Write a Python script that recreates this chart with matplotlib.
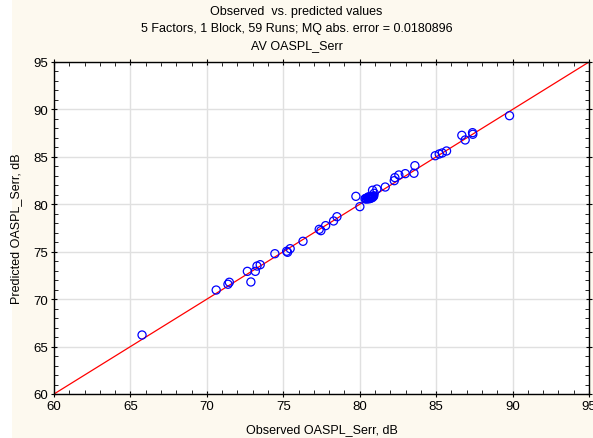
import matplotlib
matplotlib.use("Agg")
import matplotlib.pyplot as plt
from matplotlib.ticker import MultipleLocator
from matplotlib.patches import Rectangle

plt.rcParams['font.family'] = ['Liberation Sans', 'DejaVu Sans']

observed = [65.76, 70.61, 71.38, 71.47, 72.65, 72.88, 73.17, 73.28, 73.49, 74.45,
            75.22, 75.28, 75.45, 76.29, 77.35, 77.46, 77.77, 78.29, 78.51, 79.75,
            80.01, 80.84, 80.95, 81.12, 81.67, 82.26, 82.30, 82.56, 82.98, 83.55,
            83.61, 84.94, 85.20, 85.40, 85.68, 86.68, 86.90, 87.38, 87.40, 89.80,
            80.35, 80.40, 80.45, 80.50, 80.55, 80.58, 80.62, 80.65, 80.68, 80.70,
            80.73, 80.76, 80.79, 80.82, 80.85, 80.88, 80.92, 80.52, 80.60]
predicted = [66.22, 70.96, 71.57, 71.78, 72.93, 71.81, 72.93, 73.49, 73.63, 74.79,
             75.05, 74.94, 75.32, 76.10, 77.36, 77.22, 77.75, 78.24, 78.69, 80.84,
             79.75, 81.48, 81.16, 81.61, 81.82, 82.49, 82.81, 83.09, 83.23, 83.27,
             84.07, 85.12, 85.30, 85.41, 85.62, 87.27, 86.78, 87.55, 87.38, 89.34,
             80.58, 80.62, 80.55, 80.66, 80.60, 80.70, 80.58, 80.68, 80.62, 80.75,
             80.66, 80.72, 80.78, 80.70, 80.85, 80.80, 80.88, 80.72, 80.80]

fig = plt.figure(figsize=(5.93, 4.39), dpi=100)
bg = '#fdf9ef'
fig.patch.set_facecolor(bg)
fig.patches.append(Rectangle((0, 0), 12/593, 1, transform=fig.transFigure,
                             facecolor='white', edgecolor='none', zorder=-1))

ax = fig.add_axes([54/593, 1-395/439, 535/593, 332/439])
ax.set_facecolor('white')
ax.set_xlim(60, 95)
ax.set_ylim(60, 95)
ax.xaxis.set_major_locator(MultipleLocator(5))
ax.yaxis.set_major_locator(MultipleLocator(5))
ax.xaxis.set_minor_locator(MultipleLocator(1))
ax.yaxis.set_minor_locator(MultipleLocator(1))
ax.grid(True, which='major', color='#e0e0e0', linewidth=1)
ax.set_axisbelow(True)
ax.tick_params(which='both', top=True, right=True,
               labelsize=9.5, color='black', pad=2)
ax.tick_params(which='major', direction='inout', length=5, width=0.8)
ax.tick_params(which='minor', direction='in', length=3, width=0.6)
for s in ax.spines.values():
    s.set_color('black')
    s.set_linewidth(1)

ax.plot([60, 95], [60, 95], color='red', linewidth=0.9, zorder=2)
ax.scatter(observed, predicted, s=34, facecolors='none', edgecolors='blue',
           linewidths=0.9, zorder=3, clip_on=False)

ax.set_xlabel('Observed OASPL_Serr, dB', fontsize=9, labelpad=8)
ax.set_ylabel('Predicted OASPL_Serr, dB', fontsize=9, labelpad=8)

fig.text(0.5, 1-12/439, 'Observed  vs. predicted values', ha='center', va='center', fontsize=9)
fig.text(0.5, 1-29/439, '5 Factors, 1 Block, 59 Runs; MQ abs. error = 0.0180896', ha='center', va='center', fontsize=9)
fig.text(0.5, 1-46/439, 'AV OASPL_Serr', ha='center', va='center', fontsize=9)

fig.savefig('out.png', dpi=100, facecolor=fig.get_facecolor())
